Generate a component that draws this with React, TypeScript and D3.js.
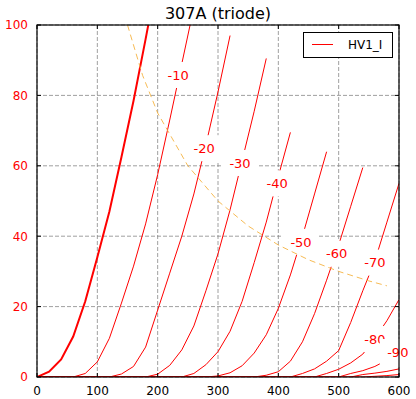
import React from 'react';
import * as d3 from 'd3';

// plate voltage (V) / plate current (mA), one pair of arrays per grid bias
const g0V = [0, 20, 40, 60, 80, 100, 120, 140, 160, 180, 200];
const g0I = [0, 1.5, 5, 11.5, 21.5, 34, 47, 62.5, 78.5, 96, 114];
const g10V = [0, 60, 80, 100, 120, 140, 160, 180, 200, 220, 240, 260];
const g10I = [0, 0, 1, 4.3, 11, 21, 31.5, 43.5, 57.5, 73, 89, 105];
const g20V = [0, 120, 140, 160, 180, 200, 220, 240, 260, 280, 300, 320];
const g20I = [0, 0, 0.85, 3, 8.5, 19, 29.5, 40, 52, 66, 81, 97];
const g30V = [0, 180, 200, 220, 240, 260, 280, 300, 320, 340, 360, 380];
const g30I = [0, 0, 0.8, 3.3, 7.7, 14.5, 24.5, 35, 47.5, 61.5, 75.5, 90.5];
const g40V = [0, 240, 260, 280, 300, 320, 340, 360, 380, 400, 420];
const g40I = [0, 0, 1, 3.5, 7.2, 13, 21.5, 32.5, 44, 57, 69.5];
const g50V = [0, 280, 300, 320, 340, 360, 380, 400, 420, 440, 460, 480];
const g50I = [0, 0, 0.3, 1.2, 3.2, 6.8, 12, 19.5, 29, 40, 52, 64];
const g60V = [0, 360, 380, 400, 420, 440, 460, 480, 500, 520, 540];
const g60I = [0, 0, 0.5, 1.5, 4.5, 10, 18, 27.5, 37.5, 48.5, 59.5];
const g70V = [0, 420, 440, 460, 480, 500, 520, 540, 560, 580, 600];
const g70I = [0, 0, 1, 2.3, 4.5, 7.5, 15.5, 24.5, 33, 44, 55];
const g80V = [0, 460, 480, 500, 520, 540, 560, 580, 600];
const g80I = [0, 0, 1, 2.2, 4, 6.5, 11, 16, 22];
const g90V = [0, 500, 520, 540, 560, 580, 600];
const g90I = [0, 0, 1, 1.8, 3, 4.8, 7.5];
const g100V = [0, 520, 540, 560, 580, 600];
const g100I = [0, 0, 0.7, 1.1, 1.6, 2.3];
const g110V = [0, 540, 560, 580, 600];
const g110I = [0, 0, 0.2, 0.4, 0.7];

// inline curve labels (text, V, mA)
const labelText = ['-10', '-20', '-30', '-40', '-50', '-60', '-70', '-80', '-90'];
const labelV = [234, 277, 336.5, 398, 437.6, 496.7, 560, 560, 598];
const labelI = [85.8, 65, 60.8, 55, 38.4, 35, 32.5, 10.8, 7.1];

// max plate dissipation line
const pdV = [150, 175, 200, 250, 300, 350, 400, 450, 500, 550, 580];
const pdI = [100, 85.7, 75, 60, 50, 42.9, 37.5, 33.3, 30, 27.3, 25.9];

const xTicks = [0, 100, 200, 300, 400, 500, 600];
const yTicks = [0, 20, 40, 60, 80, 100];

const FONT = 'DejaVu Sans, sans-serif';
const RED = '#ff0000';

const zip = (v: number[], i: number[]) => v.map((d, k) => [d, i[k]] as [number, number]);

export default function App() {
  const x = d3.scaleLinear().domain([0, 600]).range([37, 399]);
  const y = d3.scaleLinear().domain([0, 100]).range([377, 25]);
  const line = d3.line<[number, number]>().x(d => x(d[0])).y(d => y(d[1]));

  const thin = [
    zip(g10V, g10I), zip(g20V, g20I), zip(g30V, g30I), zip(g40V, g40I),
    zip(g50V, g50I), zip(g60V, g60I), zip(g70V, g70I), zip(g80V, g80I),
    zip(g90V, g90I), zip(g100V, g100I), zip(g110V, g110I),
  ];

  const [x0, x1] = x.range();
  const [y0, y1] = y.range();

  return (
    <svg width={416} height={399} style={{ position: 'absolute', left: 0, top: 0, background: '#fff' }}>
      <defs>
        <clipPath id="plot">
          <rect x={x0} y={y1} width={x1 - x0} height={y0 - y1} />
        </clipPath>
      </defs>

      {/* grid */}
      <g stroke="#888" strokeWidth={0.8} strokeDasharray="4,2">
        {xTicks.map(t => <line key={'gx' + t} x1={x(t)} x2={x(t)} y1={y0} y2={y1} />)}
        {yTicks.map(t => <line key={'gy' + t} x1={x0} x2={x1} y1={y(t)} y2={y(t)} />)}
      </g>

      <g clipPath="url(#plot)" fill="none" stroke={RED}>
        {thin.map((d, k) => <path key={k} d={line(d) || ''} strokeWidth={1} />)}
        <path d={line(zip(g0V, g0I)) || ''} strokeWidth={2} />
      </g>

      {/* labels with white boxes */}
      {labelText.map((t, k) => {
        const cx = x(labelV[k]);
        const cy = y(labelI[k]);
        return (
          <g key={t}>
            <rect x={cx - 18} y={cy - 13} width={36} height={26} fill="#fff" />
            <text x={cx} y={cy} dy="0.36em" textAnchor="middle" fontFamily={FONT} fontSize={13} fill={RED}>{t}</text>
          </g>
        );
      })}

      <path d={line(zip(pdV, pdI)) || ''} fill="none" stroke="#f5b342" strokeWidth={0.9} strokeDasharray="6,4" clipPath="url(#plot)" />

      {/* frame and inward ticks */}
      <rect x={x0} y={y1} width={x1 - x0} height={y0 - y1} fill="none" stroke="#000" strokeWidth={1.2} />
      <g stroke="#000" strokeWidth={1}>
        {xTicks.map(t => (
          <g key={'tx' + t}>
            <line x1={x(t)} x2={x(t)} y1={y0} y2={y0 - 4} />
            <line x1={x(t)} x2={x(t)} y1={y1} y2={y1 + 4} />
          </g>
        ))}
        {yTicks.map(t => (
          <g key={'ty' + t}>
            <line x1={x0} x2={x0 + 4} y1={y(t)} y2={y(t)} />
            <line x1={x1} x2={x1 - 4} y1={y(t)} y2={y(t)} />
          </g>
        ))}
      </g>

      <g fontFamily={FONT} fontSize={12}>
        {xTicks.map(t => (
          <text key={'lx' + t} x={x(t)} y={395} textAnchor="middle" fill="#000">{t}</text>
        ))}
        {yTicks.map(t => (
          <text key={'ly' + t} x={28} y={y(t)} dy="0.36em" textAnchor="end" fill={RED}>{t}</text>
        ))}
      </g>

      <text x={(x0 + x1) / 2} y={18.5} textAnchor="middle" fontFamily={FONT} fontSize={16} fill="#000">307A (triode)</text>

      {/* legend */}
      <g>
        <rect x={303.5} y={32.5} width={89} height={25} fill="#fff" stroke="#000" strokeWidth={1} />
        <line x1={312} x2={333} y1={44.5} y2={44.5} stroke={RED} strokeWidth={1} />
        <text x={348} y={49} fontFamily={FONT} fontSize={12} fill="#000">HV1_I</text>
      </g>
    </svg>
  );
}
